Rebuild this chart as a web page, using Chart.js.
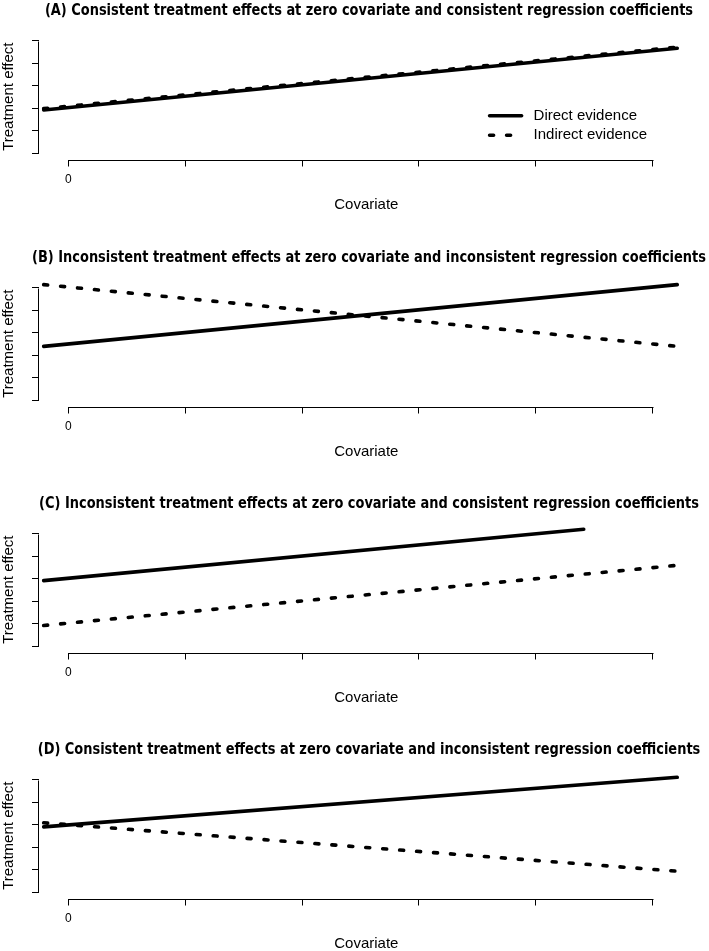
<!DOCTYPE html>
<html lang="en">
<head>
  <meta charset="UTF-8">
  <title>Treatment effect vs covariate</title>
  <style>
    html, body { margin: 0; padding: 0; background: #fff; }
    body { width: 709px; height: 951px; overflow: hidden; position: relative; }
    .panel { position: absolute; left: 0; width: 709px; height: 246px; }
    .panel h2 {
      position: absolute; left: -98px; top: 0; width: 934px; height: 20px; margin: 0;
      line-height: 20px; text-align: center; white-space: nowrap;
      font-family: "Liberation Sans Narrow", "DejaVu Sans Condensed", sans-serif;
      font-size: 16px; font-weight: bold; color: #000;
      transform: scaleX(0.90); transform-origin: 50% 50%;
    }
    .panel canvas { position: absolute; left: 0; top: 0; }
  </style>
  <script src="https://cdn.jsdelivr.net/npm/chart.js"></script>
</head>
<body>
  <div class="panel" style="top:0px"><canvas id="chartA" width="709" height="246"></canvas><h2></h2></div>
  <div class="panel" style="top:247px"><canvas id="chartB" width="709" height="246"></canvas><h2></h2></div>
  <div class="panel" style="top:493px"><canvas id="chartC" width="709" height="246"></canvas><h2></h2></div>
  <div class="panel" style="top:739px"><canvas id="chartD" width="709" height="246"></canvas><h2></h2></div>
<script>
  // axis ticks (only the first x tick is labelled)
  const xTicks = [0, 1, 2, 3, 4, 5];
  const xTickLabels = ['0', '', '', '', '', ''];
  const yTicks = [0, 1, 2, 3, 4, 5];
  const seriesNames = ['Direct evidence', 'Indirect evidence'];

  const panelTitles = [
    '(A) Consistent treatment effects at zero covariate and consistent regression coefficients',
    '(B) Inconsistent treatment effects at zero covariate and inconsistent regression coefficients',
    '(C) Inconsistent treatment effects at zero covariate and consistent regression coefficients',
    '(D) Consistent treatment effects at zero covariate and inconsistent regression coefficients'
  ];

  // covariate values at the line ends
  const covariate = [-0.21, 5.21];
  const covariateShort = [-0.21, 4.41];

  // treatment effect at the line ends
  const directA = [1.92, 4.66];
  const indirectA = [1.98, 4.71];
  const directB = [2.39, 5.13];
  const indirectB = [5.13, 2.39];
  const directC = [2.91, 5.19];
  const indirectC = [0.92, 3.59];
  const directD = [2.90, 5.10];
  const indirectD = [3.08, 0.93];

  const panels = [
    { id: 'chartA', title: panelTitles[0], dx: covariate, d: directA, ix: covariate, ind: indirectA, legend: true },
    { id: 'chartB', title: panelTitles[1], dx: covariate, d: directB, ix: covariate, ind: indirectB },
    { id: 'chartC', title: panelTitles[2], dx: covariateShort, d: directC, ix: covariate, ind: indirectC },
    { id: 'chartD', title: panelTitles[3], dx: covariate, d: directD, ix: covariate, ind: indirectD }
  ];

  const ink = '#000';
  const dash = [4, 13];
  Chart.defaults.color = ink;
  Chart.defaults.font.family = '"Liberation Sans", Arial, sans-serif';

  const toPoints = (xs, ys) => xs.map((x, i) => ({ x: x, y: ys[i] }));

  // R-style axis lines: only between first and last tick
  const rAxes = {
    id: 'rAxes',
    afterDraw(chart) {
      const ctx = chart.ctx;
      const xs = chart.scales.x, ys = chart.scales.y;
      const a = chart.chartArea;
      ctx.save();
      ctx.strokeStyle = ink;
      ctx.lineWidth = 1;
      ctx.beginPath();
      const yb = Math.round(a.bottom) + 0.5;
      ctx.moveTo(Math.round(xs.getPixelForValue(xTicks[0])) + 0.5, yb);
      ctx.lineTo(Math.round(xs.getPixelForValue(xTicks[xTicks.length - 1])) + 0.5, yb);
      const xl = Math.round(a.left) - 0.5;
      ctx.moveTo(xl, Math.round(ys.getPixelForValue(yTicks[0])) + 0.5);
      ctx.lineTo(xl, Math.round(ys.getPixelForValue(yTicks[yTicks.length - 1])) + 0.5);
      ctx.stroke();
      ctx.restore();
    }
  };

  // legend box inside panel A
  const insideLegend = {
    id: 'insideLegend',
    afterDraw(chart, args, opts) {
      if (!opts.show) return;
      const ctx = chart.ctx;
      const a = chart.chartArea;
      const x0 = a.right - 204, x1 = x0 + 32, tx = x0 + 44;
      let y = a.top + 82;
      ctx.save();
      chart.data.datasets.forEach(ds => {
        ctx.strokeStyle = ds.borderColor;
        ctx.lineWidth = ds.borderWidth;
        ctx.lineCap = ds.borderCapStyle || 'butt';
        ctx.setLineDash(ds.borderDash || []);
        ctx.beginPath();
        ctx.moveTo(x0, y);
        ctx.lineTo(x1, y);
        ctx.stroke();
        ctx.setLineDash([]);
        ctx.fillStyle = ink;
        ctx.font = '15px "Liberation Sans", Arial, sans-serif';
        ctx.textBaseline = 'middle';
        ctx.fillText(ds.label, tx, y);
        y += 19.5;
      });
      ctx.restore();
    }
  };

  panels.forEach(p => {
    const canvas = document.getElementById(p.id);
    canvas.parentNode.querySelector('h2').textContent = p.title;
    new Chart(canvas, {
      type: 'line',
      data: {
        datasets: [
          {
            label: seriesNames[0],
            data: toPoints(p.dx, p.d),
            borderColor: ink,
            borderWidth: 3.6,
            borderCapStyle: 'round',
            pointRadius: 0,
            clip: false
          },
          {
            label: seriesNames[1],
            data: toPoints(p.ix, p.ind),
            borderColor: ink,
            borderWidth: 3.6,
            borderDash: dash,
            borderCapStyle: 'round',
            pointRadius: 0,
            clip: false
          }
        ]
      },
      options: {
        responsive: false,
        animation: false,
        events: [],
        layout: { padding: { top: 33.8, left: 0, right: 15.4, bottom: 0 } },
        plugins: {
          legend: { display: false },
          tooltip: { enabled: false },
          insideLegend: { show: !!p.legend },
          title: { display: false }
        },
        scales: {
          x: {
            type: 'linear',
            min: -0.25,
            max: 5.35,
            afterBuildTicks: s => { s.ticks = xTicks.map(v => ({ value: v })); },
            afterFit: s => { s.height = 86.5; },
            border: { display: false },
            grid: { drawOnChartArea: false, drawTicks: true, tickLength: 7, color: ink, lineWidth: 1 },
            ticks: {
              padding: 6.3,
              maxRotation: 0,
              autoSkip: false,
              font: { size: 12 },
              callback: (v, i) => xTickLabels[i]
            },
            title: { display: true, text: 'Covariate', font: { size: 15, lineHeight: 1.2 }, padding: { top: 0, bottom: 32 } }
          },
          y: {
            type: 'linear',
            min: -0.28,
            max: 5.3,
            afterBuildTicks: s => { s.ticks = yTicks.map(v => ({ value: v })); },
            afterFit: s => { s.width = 39; },
            border: { display: false },
            grid: { drawOnChartArea: false, drawTicks: true, tickLength: 7, color: ink, lineWidth: 1 },
            ticks: { display: false },
            title: { display: true, text: 'Treatment effect', font: { size: 15, lineHeight: 1.2 }, padding: { top: 0, bottom: 0 } }
          }
        }
      },
      plugins: [rAxes, insideLegend]
    });
  });
</script>
</body>
</html>
